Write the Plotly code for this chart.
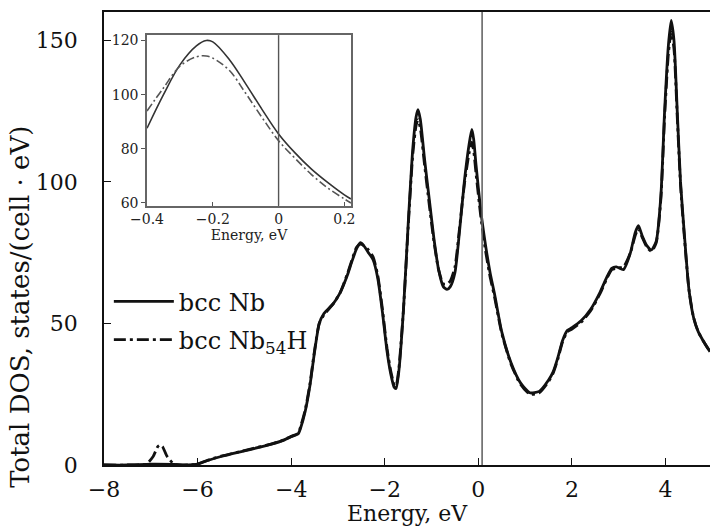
import plotly.graph_objects as go

# ---------------- data ----------------
energy_nb = [-8.0, -7.5, -7.0, -6.5, -6.2, -6.0, -5.8, -5.5, -5.0, -4.5, -4.2, -4.0, -3.85, -3.8, -3.7,
             -3.6, -3.5, -3.4, -3.3, -3.1, -2.95, -2.8, -2.7, -2.6, -2.52, -2.45, -2.35, -2.25,
             -2.15, -2.05, -1.95, -1.87, -1.8, -1.76, -1.7, -1.6, -1.5, -1.4, -1.33, -1.29,
             -1.24, -1.15, -1.05, -0.95, -0.85, -0.75, -0.67, -0.6, -0.5, -0.4, -0.3, -0.2,
             -0.14, -0.1, -0.05, 0.05, 0.15, 0.25, 0.35, 0.5, 0.7, 0.9, 1.1, 1.3, 1.5, 1.6,
             1.7, 1.8, 1.9, 2.0, 2.2, 2.4, 2.6, 2.75, 2.85, 2.95, 3.1, 3.25, 3.35, 3.42, 3.5,
             3.6, 3.7, 3.8, 3.9, 3.98, 4.06, 4.12, 4.18, 4.25, 4.32, 4.4, 4.5, 4.6, 4.7, 4.8, 4.95]
dos_nb = [0.0, 0.0, 0.3, 0.2, 0.0, 0.3, 1.5, 3.0, 5.0, 7.0, 8.5, 10.0, 11.0, 13.0, 19.0,
          28.0, 40.0, 50.0, 53.5, 57.0, 61.0, 67.0, 72.0, 76.5, 78.5, 77.5, 75.0, 72.5,
          66.0, 54.0, 40.0, 32.0, 27.5, 27.0, 33.0, 55.0, 85.0, 112.0, 123.0, 125.5,
          122.0, 108.0, 94.0, 80.0, 69.0, 63.0, 62.0, 63.0, 68.0, 83.0, 100.0, 113.0,
          118.5, 115.0, 106.0, 90.0, 78.0, 68.0, 60.0, 47.0, 36.0, 29.0, 25.5, 26.0, 30.0, 33.0,
          38.0, 44.0, 47.5, 48.5, 51.0, 55.0, 61.0, 66.5, 69.5, 70.0, 69.0, 75.0, 82.0, 84.5, 81.0,
          77.5, 76.0, 79.0, 95.0, 125.0, 148.0, 157.0, 150.0, 125.0, 100.0, 82.0, 62.0, 52.0, 47.0, 44.0, 40.0]

energy_nbh = [-8.0, -7.5, -7.1, -6.95, -6.85, -6.8, -6.75, -6.65, -6.5, -6.2, -6.0, -5.8, -5.5, -5.0, -4.5,
              -4.2, -4.0, -3.85, -3.8, -3.7, -3.6, -3.5, -3.4, -3.3, -3.1, -2.95, -2.8, -2.7, -2.6,
              -2.52, -2.45, -2.35, -2.25, -2.15, -2.05, -1.95, -1.87, -1.8, -1.76, -1.7, -1.6,
              -1.5, -1.4, -1.33, -1.29, -1.24, -1.15, -1.05, -0.95, -0.85, -0.75, -0.67, -0.6,
              -0.5, -0.4, -0.3, -0.2, -0.14, -0.1, -0.05, 0.05, 0.15, 0.25, 0.35, 0.5, 0.7, 0.9,
              1.1, 1.3, 1.5, 1.6, 1.7, 1.8, 1.9, 2.0, 2.2, 2.4, 2.6, 2.75, 2.85, 2.95, 3.1, 3.25,
              3.35, 3.42, 3.5, 3.6, 3.7, 3.8, 3.9, 3.98, 4.06, 4.12, 4.18, 4.25, 4.32, 4.4, 4.5,
              4.6, 4.7, 4.8, 4.95]
dos_nbh = [0.0, 0.0, 0.3, 3.0, 6.5, 7.0, 6.5, 3.0, 0.3, 0.0, 0.4, 1.6, 3.1, 5.1, 7.1,
           8.6, 10.1, 11.2, 13.5, 19.5, 28.5, 40.5, 50.0, 53.0, 57.0, 61.0, 67.5, 72.5, 77.0,
           78.0, 77.5, 76.0, 73.5, 67.0, 55.0, 41.0, 33.0, 28.5, 28.0, 34.0, 55.0,
           84.0, 110.0, 120.0, 122.0, 119.0, 106.0, 92.0, 79.0, 69.0, 64.0, 64.0, 65.0,
           70.0, 84.0, 99.0, 110.0, 114.0, 111.0, 103.0, 88.0, 76.0, 66.5, 59.0, 46.5, 35.5, 28.5,
           25.0, 25.5, 29.5, 32.5, 37.5, 43.5, 47.0, 48.0, 50.5, 54.5, 60.5, 66.0, 69.0, 69.5, 70.0, 75.0,
           81.0, 83.5, 80.5, 77.0, 75.5, 78.5, 94.0, 123.0, 145.0, 153.0, 147.0, 123.0, 99.0, 81.0, 62.0,
           52.0, 47.0, 44.0, 40.0]

inset_energy = [-0.4, -0.35, -0.3, -0.25, -0.22, -0.2, -0.15, -0.1, -0.05, 0.0, 0.05, 0.1, 0.15, 0.2, 0.22]
inset_nb = [87.6, 100.0, 111.0, 118.0, 120.0, 119.5, 113.0, 104.0, 94.5, 85.5, 78.5, 72.5, 67.5, 63.0, 61.5]
inset_nbh = [94.0, 102.5, 110.5, 114.0, 114.3, 113.5, 109.0, 100.5, 91.5, 83.0, 76.5, 70.5, 65.5, 61.5, 60.0]

fermi_main = 0.08
main_xticks = [-8, -6, -4, -2, 0, 2, 4]
main_yticks = [0, 50, 100, 150]
inset_xticks = [-0.4, -0.2, 0, 0.2]
inset_xtext = ["\u22120.4", "\u22120.2", "0", "0.2"]
inset_yticks = [60, 80, 100, 120]

FONT = "DejaVu Serif"
INK = "#111"

fig = go.Figure()

# main curves
fig.add_trace(go.Scatter(x=energy_nbh, y=dos_nbh, mode="lines", name="bcc Nb<sub>54</sub>H",
                         legendgroup="b", legendrank=2,
                         line=dict(color=INK, width=2.8, dash="12px,4px,3px,4px", shape="spline", smoothing=0.6),
                         xaxis="x", yaxis="y"))
fig.add_trace(go.Scatter(x=energy_nb, y=dos_nb, mode="lines", name="bcc Nb",
                         legendgroup="a", legendrank=1,
                         line=dict(color=INK, width=2.8, shape="spline", smoothing=0.6),
                         xaxis="x", yaxis="y"))

# inset curves
fig.add_trace(go.Scatter(x=inset_energy, y=inset_nb, mode="lines", showlegend=False,
                         line=dict(color="#333", width=1.6, shape="spline"), xaxis="x2", yaxis="y2"))
fig.add_trace(go.Scatter(x=inset_energy, y=inset_nbh, mode="lines", showlegend=False,
                         line=dict(color="#555", width=1.6, dash="8px,3px,2px,3px", shape="spline"),
                         xaxis="x2", yaxis="y2"))

fig.update_layout(
    width=715, height=526,
    margin=dict(l=104, r=0, t=12, b=61),
    paper_bgcolor="white", plot_bgcolor="white",
    font=dict(family=FONT, color=INK),
    legend=dict(x=0.008, y=0.41, xanchor="left", yanchor="top", traceorder="grouped",
                font=dict(family=FONT, size=24, color=INK), bgcolor="rgba(0,0,0,0)",
                itemwidth=60, tracegroupgap=4),
    xaxis=dict(domain=[0, 1], range=[-8, 4.95], tickvals=main_xticks,
               ticktext=[("\u2212" + str(-v)) if v < 0 else str(v) for v in main_xticks],
               ticks="inside", ticklen=7, tickwidth=1.2, tickcolor=INK,
               showline=True, linecolor=INK, linewidth=1.5, mirror=True,
               showgrid=False, zeroline=False,
               tickfont=dict(family=FONT, size=22, color=INK), ticklabelstandoff=4),
    yaxis=dict(domain=[0, 1], range=[0, 160], tickvals=main_yticks,
               ticks="inside", ticklen=7, tickwidth=1.2, tickcolor=INK,
               showline=True, linecolor=INK, linewidth=1.5,
               showgrid=False, zeroline=False,
               tickfont=dict(family=FONT, size=22, color=INK), ticklabelstandoff=20),
    xaxis2=dict(domain=[0.071, 0.4075], anchor="y2", range=[-0.4, 0.22], tickvals=inset_xticks,
                ticktext=inset_xtext, ticks="inside", ticklen=4, tickcolor="#555",
                showline=True, linecolor="#666", linewidth=1.5, mirror=True,
                showgrid=False, zeroline=False,
                tickfont=dict(family=FONT, size=14, color="#222"),
                title=dict(text="Energy, eV", font=dict(family=FONT, size=14, color="#222"), standoff=4)),
    yaxis2=dict(domain=[0.5724, 0.949], anchor="x2", range=[59, 122], tickvals=inset_yticks,
                ticks="outside", ticklen=4, tickcolor="#555",
                showline=True, linecolor="#666", linewidth=1.5, mirror=True,
                showgrid=False, zeroline=False,
                tickfont=dict(family=FONT, size=14, color="#222")),
    shapes=[
        dict(type="line", xref="x", yref="y domain", x0=fermi_main, x1=fermi_main, y0=0, y1=1,
             line=dict(color="#666", width=1.6)),
        dict(type="line", xref="x2", yref="y2 domain", x0=0, x1=0, y0=0, y1=1,
             line=dict(color="#555", width=1.4)),
    ],
    annotations=[
        dict(text="Energy, eV", xref="paper", yref="paper", x=0.5, y=-0.108,
             xanchor="center", yanchor="middle", showarrow=False,
             font=dict(family=FONT, size=22, color=INK)),
        dict(text="Total DOS, states/(cell \u00b7 eV)", xref="paper", yref="paper",
             x=-0.138, y=0.35, xanchor="center", yanchor="middle", textangle=-90, showarrow=False,
             font=dict(family=FONT, size=26, color=INK)),
    ],
)

fig.write_html("out.html")
